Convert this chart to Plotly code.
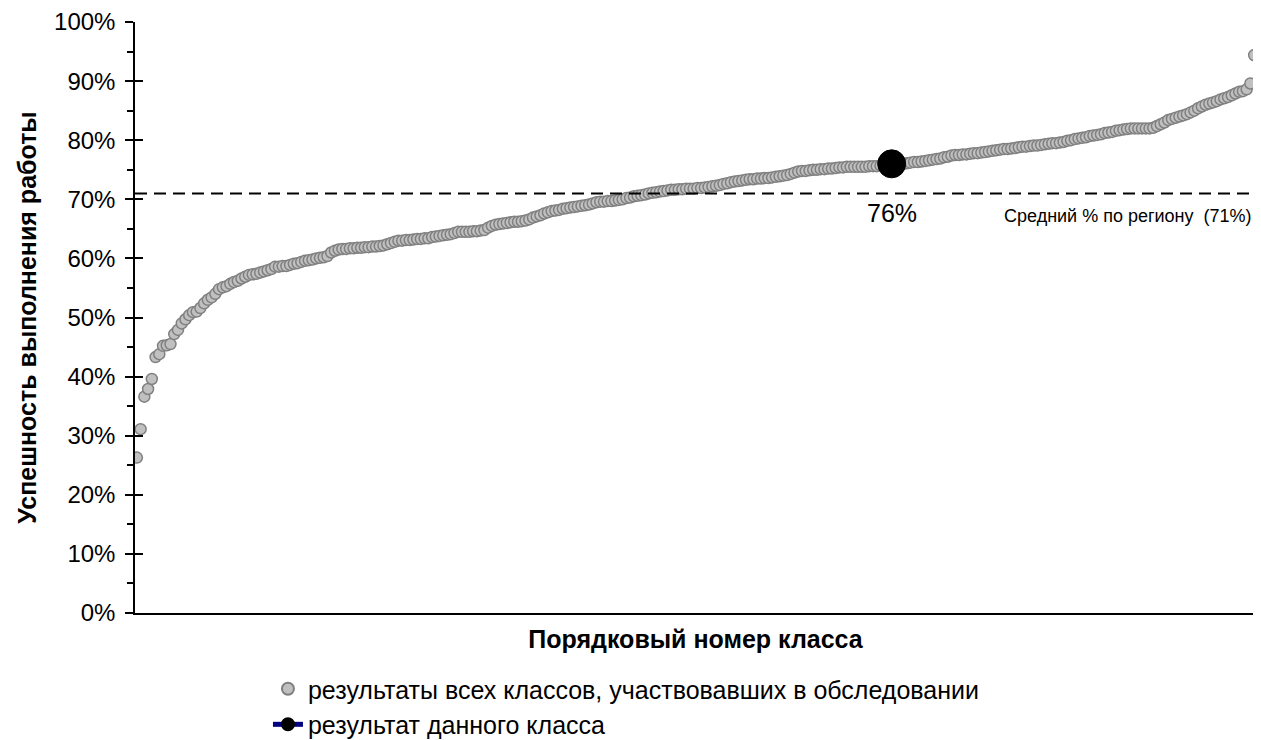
import plotly.graph_objects as go

# ---------------- data ----------------
all_classes_pct = [
    26.3, 31.1, 36.6, 37.9, 39.6, 43.3, 43.8, 45.2, 45.3, 45.5,
    47.2, 47.9, 49.0, 49.7, 50.4, 50.9, 51.0, 51.6, 52.4, 53.0,
    53.4, 54.0, 54.8, 55.1, 55.3, 55.7, 56.0, 56.2, 56.6, 56.9,
    57.2, 57.3, 57.4, 57.6, 57.8, 58.0, 58.2, 58.6, 58.6, 58.7,
    58.7, 58.9, 59.1, 59.2, 59.4, 59.6, 59.7, 59.8, 60.0, 60.1,
    60.2, 60.4, 61.0, 61.3, 61.5, 61.6, 61.6, 61.7, 61.7, 61.8,
    61.8, 61.9, 61.9, 62.0, 62.0, 62.1, 62.2, 62.4, 62.6, 62.8,
    63.0, 63.0, 63.1, 63.1, 63.2, 63.3, 63.3, 63.4, 63.4, 63.6,
    63.7, 63.8, 63.9, 64.0, 64.1, 64.3, 64.5, 64.5, 64.5, 64.5,
    64.6, 64.6, 64.7, 64.8, 65.2, 65.5, 65.7, 65.8, 65.9, 66.0,
    66.1, 66.2, 66.2, 66.3, 66.4, 66.6, 66.9, 67.1, 67.3, 67.6,
    67.8, 68.0, 68.1, 68.2, 68.4, 68.5, 68.6, 68.7, 68.8, 68.9,
    69.0, 69.1, 69.3, 69.5, 69.6, 69.6, 69.7, 69.7, 69.8, 69.9,
    70.0, 70.2, 70.3, 70.5, 70.6, 70.7, 70.8, 71.0, 71.1, 71.2,
    71.3, 71.4, 71.5, 71.6, 71.6, 71.7, 71.7, 71.8, 71.8, 71.8,
    71.9, 71.9, 72.0, 72.1, 72.2, 72.3, 72.4, 72.6, 72.7, 72.9,
    73.0, 73.1, 73.2, 73.3, 73.4, 73.4, 73.5, 73.5, 73.6, 73.6,
    73.7, 73.8, 73.9, 74.0, 74.1, 74.3, 74.5, 74.7, 74.8, 74.8,
    74.9, 75.0, 75.0, 75.1, 75.1, 75.2, 75.2, 75.3, 75.4, 75.4,
    75.5, 75.5, 75.5, 75.5, 75.5, 75.5, 75.6, 75.6, 75.6, 75.7,
    75.7, 75.8, 75.8, 75.9, 75.9, 76.0, 76.1, 76.2, 76.3, 76.3,
    76.4, 76.5, 76.6, 76.7, 76.8, 76.9, 77.1, 77.2, 77.4, 77.5,
    77.5, 77.6, 77.6, 77.7, 77.8, 77.8, 77.9, 78.0, 78.1, 78.2,
    78.3, 78.4, 78.5, 78.5, 78.6, 78.7, 78.8, 78.9, 78.9, 79.0,
    79.1, 79.1, 79.2, 79.3, 79.4, 79.5, 79.5, 79.6, 79.7, 79.9,
    80.0, 80.2, 80.3, 80.4, 80.5, 80.7, 80.8, 80.9, 81.0, 81.2,
    81.3, 81.4, 81.6, 81.7, 81.8, 81.9, 82.0, 82.0, 82.0, 82.0,
    82.0, 82.0, 82.1, 82.4, 82.7, 83.0, 83.4, 83.6, 83.8, 84.0,
    84.2, 84.4, 84.7, 85.0, 85.4, 85.7, 86.0, 86.2, 86.4, 86.6,
    86.9, 87.1, 87.3, 87.6, 87.9, 88.2, 88.3, 88.6, 89.6, 94.4,
]
class_numbers = list(range(1, len(all_classes_pct) + 1))

this_class_position = [203]
this_class_pct = [76]

region_avg_pct = 71

y_tick_values = [0, 10, 20, 30, 40, 50, 60, 70, 80, 90, 100]
y_tick_labels = [f"{v}%" for v in y_tick_values]

series_names = [
    "результаты всех классов, участвовавших в обследовании",
    "результат данного класса",
]
y_title = "Успешность выполнения работы"
x_title = "Порядковый номер класса"
avg_label = f"Средний % по региону  ({region_avg_pct}%)"

FONT = "Arial, 'Liberation Sans', sans-serif"

# ---------------- figure ----------------
fig = go.Figure()

fig.add_trace(go.Scatter(
    x=class_numbers, y=all_classes_pct, mode="markers",
    name=series_names[0],
    marker=dict(size=11, color="#c0c0c0", line=dict(color="#808080", width=1.5)),
))
fig.add_trace(go.Scatter(
    x=this_class_position, y=this_class_pct, mode="lines+markers",
    name=series_names[1],
    line=dict(color="#000080", width=1.5),
    marker=dict(size=28, color="black", line=dict(color="black", width=1)),
))

# invisible trace for the inside half of the crossing major ticks
fig.add_trace(go.Scatter(x=[None], y=[None], yaxis="y2", showlegend=False, hoverinfo="skip"))

fig.add_shape(type="line", xref="paper", x0=0, x1=1, yref="y", y0=region_avg_pct, y1=region_avg_pct,
              line=dict(color="black", width=2, dash="12px,7px"))
fig.add_shape(type="line", xref="paper", x0=1, x1=1, yref="paper", y0=0, y1=1,
              line=dict(color="#808080", width=1.5))

fig.add_annotation(x=this_class_position[0], y=this_class_pct[0], xref="x", yref="y",
                   text=f"{this_class_pct[0]}%", showarrow=False, yshift=-49,
                   font=dict(family=FONT, size=25, color="black"))
fig.add_annotation(x=1, y=region_avg_pct, xref="paper", yref="y", xanchor="right", yanchor="top",
                   text=avg_label, showarrow=False, yshift=-11, xshift=-2,
                   font=dict(family=FONT, size=18, color="black"))

fig.update_layout(
    width=1253, height=732,
    margin=dict(l=127, r=5, t=14, b=127, autoexpand=False),
    paper_bgcolor="white", plot_bgcolor="white",
    font=dict(family=FONT, color="black"),
    showlegend=True,
    legend=dict(x=0.1186, y=0.101, xref="paper", yref="container", xanchor="left", yanchor="top",
                orientation="v",
                font=dict(family=FONT, size=25), itemsizing="constant",
                bgcolor="rgba(0,0,0,0)", tracegroupgap=0),
    xaxis=dict(range=[0.5, len(all_classes_pct) + 0.5], showgrid=False, zeroline=False,
               showticklabels=False, ticks="", showline=True, linecolor="black", linewidth=1.5,
               automargin=False,
               title=dict(text=f"<b>{x_title}</b>", font=dict(family=FONT, size=25), standoff=17)),
    yaxis=dict(range=[0, 100], showgrid=False, zeroline=False, automargin=False,
               tickvals=y_tick_values, ticktext=y_tick_labels,
               ticks="outside", ticklen=8, tickwidth=1.5, tickcolor="black",
               ticklabelstandoff=5,
               minor=dict(ticks="outside", ticklen=6, tickwidth=1.5, tickcolor="black", dtick=5, showgrid=False),
               showline=True, linecolor="black", linewidth=1.5,
               tickfont=dict(family=FONT, size=24),
               title=dict(text=f"<b>{y_title}</b>", font=dict(family=FONT, size=25), standoff=10)),
    yaxis2=dict(range=[0, 100], overlaying="y", side="left", showgrid=False, zeroline=False,
                tickvals=y_tick_values, showticklabels=False, ticks="inside", ticklen=8,
                tickwidth=1.5, tickcolor="black", showline=False),
)

fig.write_html("out.html")
